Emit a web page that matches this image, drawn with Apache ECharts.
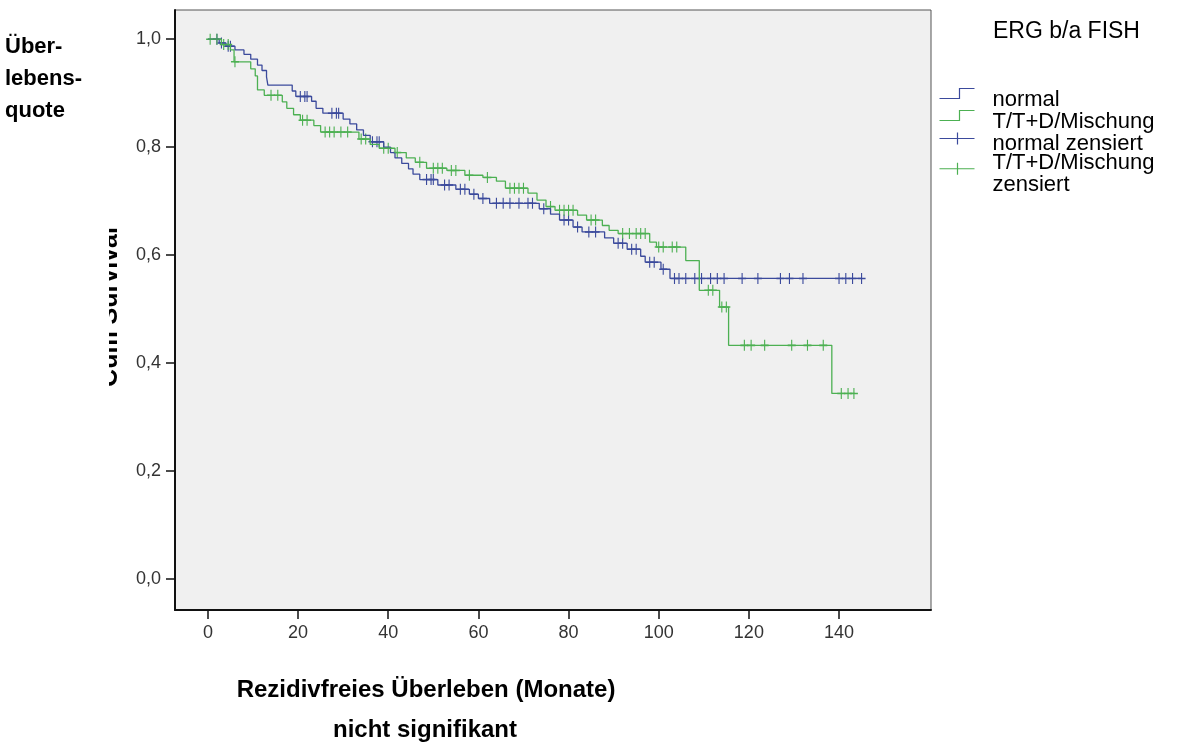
<!DOCTYPE html>
<html>
<head>
<meta charset="utf-8">
<title>ERG b/a FISH</title>
<script src="https://cdn.jsdelivr.net/npm/echarts@6/dist/echarts.min.js"></script>
<style>
	html, body { margin: 0; padding: 0; background: #fff; }
	#chart { width: 1189px; height: 743px; }
</style>
</head>
<body>
<div id="chart"></div>
<script>
// Achsen
const xTicks = [0, 20, 40, 60, 80, 100, 120, 140];
const yTicks = [0, 0.2, 0.4, 0.6, 0.8, 1.0];

// normal: Zeitpunkte (Monate) und Überlebensquote ab diesem Zeitpunkt
const normalTimes = [0, 2.5, 4, 6, 8, 9.5, 11, 12, 13, 13.3, 18.7, 19.5, 23, 24, 25.5, 30, 31.5, 33, 34.5, 36, 39, 40.5, 41.5, 43, 44.5, 45.5, 47, 51, 55, 58, 60, 62.5, 73.5, 76, 78, 81, 83, 88, 90, 93, 96, 97, 100.5, 102.5, 145];
const normalSurv = [1.0, 0.993, 0.987, 0.98, 0.972, 0.963, 0.952, 0.942, 0.93, 0.915, 0.904, 0.894, 0.885, 0.872, 0.863, 0.852, 0.843, 0.832, 0.822, 0.81, 0.8, 0.79, 0.78, 0.77, 0.76, 0.75, 0.74, 0.73, 0.722, 0.713, 0.705, 0.696, 0.686, 0.676, 0.665, 0.652, 0.643, 0.632, 0.622, 0.611, 0.598, 0.587, 0.574, 0.557, 0.557];
// normal zensiert
const normalCensored = [2, 3, 4.5, 5, 20.5, 21.5, 22, 27.5, 28.5, 29, 36.5, 37.5, 38, 48.5, 49.5, 50, 52.5, 53.5, 56, 57, 59, 61, 64, 65.5, 67, 69, 71, 72, 74.5, 79, 80, 82, 84.5, 86, 91, 92, 94, 95, 98, 99, 101, 103.5, 104.5, 106, 108, 109.5, 111.5, 113, 114.5, 118.5, 122, 127, 129, 132, 140, 141.5, 143, 145];

// T/T+D/Mischung
const mixTimes = [0, 3, 5, 5.8, 9.5, 10.5, 11, 12.5, 16.5, 17.5, 19, 20.5, 23.5, 25, 33.5, 36, 38, 41.5, 44, 46, 48.5, 53, 57, 61, 64, 66, 71, 73, 75, 77, 82, 84, 87.5, 89, 91, 98, 99.5, 106, 109, 113.5, 115.5, 138.4, 143.5];
const mixSurv = [1.0, 0.99, 0.98, 0.958, 0.945, 0.932, 0.906, 0.896, 0.884, 0.872, 0.86, 0.85, 0.84, 0.828, 0.815, 0.805, 0.798, 0.79, 0.78, 0.772, 0.761, 0.757, 0.748, 0.744, 0.737, 0.724, 0.715, 0.702, 0.69, 0.683, 0.674, 0.665, 0.655, 0.646, 0.64, 0.624, 0.615, 0.59, 0.535, 0.504, 0.433, 0.344, 0.344];
// T/T+D/Mischung zensiert
const mixCensored = [0.5, 2, 3.5, 4.5, 6, 14, 15.5, 21, 22, 26, 27, 28, 29.5, 31, 34, 35, 39, 40, 42, 47, 50, 51, 52, 54, 55, 58, 62, 67, 68, 69, 70, 76, 78, 79, 80, 81, 85, 86, 92, 93.5, 95, 96, 97, 100, 101, 103, 104, 111, 112, 114, 115, 119, 120.5, 123.5, 129.5, 133, 136.5, 140.5, 142, 143.3];

const BLUE = "#3b4a9c";
const GREEN = "#4cb052";
const FONT = "'Liberation Sans', Arial, sans-serif";

// Legendensymbole: gezeichneter Teil oben, leerer Rest unten (hebt das Symbol etwas an)
const stepIcon = "path://M0,10L20,10L20,0L35,0M0,22";
const crossIcon = "path://M0,6L35,6M18,0L18,12M0,22";
const crossSymbol = "path://M0,6L12,6M6,0L6,12";

// Überlebensquote zum Zeitpunkt t (Treppenfunktion)
function survAt(times, surv, t) {
	let s = surv[0];
	for (let i = 0; i < times.length; i++) {
		if (times[i] <= t) s = surv[i];
	}
	return s;
}

const chart = echarts.init(document.getElementById("chart"));

const option = {
	animation: false,
	backgroundColor: "#fff",
	grid: {
		left: 175,
		top: 10,
		width: 756,
		height: 600,
		show: true,
		backgroundColor: "#f0f0f0",
		borderColor: "#555",
		borderWidth: 1,
	},
	xAxis: {
		type: "value",
		min: -7.3,
		max: 160.4,
		axisLine: { onZero: false, lineStyle: { color: "#111", width: 2 } },
		axisTick: { customValues: xTicks, length: 9, lineStyle: { color: "#111", width: 1.5 } },
		axisLabel: { customValues: xTicks, margin: 14, color: "#333", fontSize: 18, fontFamily: FONT },
		splitLine: { show: false },
	},
	yAxis: {
		type: "value",
		min: -0.057,
		max: 1.054,
		axisLine: { onZero: false, lineStyle: { color: "#111", width: 2 } },
		axisTick: { customValues: yTicks, length: 9, lineStyle: { color: "#111", width: 1.5 } },
		axisLabel: {
			customValues: yTicks,
			margin: 14,
			color: "#333",
			fontSize: 18,
			fontFamily: FONT,
			formatter: (v) => v.toFixed(1).replace(".", ","),
		},
		splitLine: { show: false },
	},
	legend: {
		orient: "vertical",
		left: 937,
		top: 86,
		padding: 0,
		itemWidth: 35,
		itemHeight: 22,
		itemGap: -5,
		selectedMode: false,
		textStyle: { fontSize: 22, lineHeight: 21.5, color: "#000", fontFamily: FONT, padding: [0, 0, 0, 13] },
		data: [
			{ name: "normal", icon: stepIcon, itemStyle: { color: "none", borderColor: BLUE, borderWidth: 1.2 } },
			{ name: "T/T+D/Mischung", icon: stepIcon, itemStyle: { color: "none", borderColor: GREEN, borderWidth: 1.2 } },
			{ name: "normal zensiert", icon: crossIcon, itemStyle: { color: "none", borderColor: BLUE, borderWidth: 1.2 } },
			{ name: "T/T+D/Mischung\nzensiert", icon: crossIcon, itemStyle: { color: "none", borderColor: GREEN, borderWidth: 1.2 } },
		],
	},
	series: [
		{
			name: "normal",
			type: "line",
			step: "end",
			showSymbol: false,
			lineStyle: { color: BLUE, width: 1.3 },
			itemStyle: { color: BLUE },
			data: normalTimes.map((t, i) => [t, normalSurv[i]]),
		},
		{
			name: "T/T+D/Mischung",
			type: "line",
			step: "end",
			showSymbol: false,
			lineStyle: { color: GREEN, width: 1.3 },
			itemStyle: { color: GREEN },
			data: mixTimes.map((t, i) => [t, mixSurv[i]]),
		},
		{
			name: "normal zensiert",
			type: "scatter",
			symbol: crossSymbol,
			symbolSize: [8, 11],
			itemStyle: { color: "none", borderColor: BLUE, borderWidth: 1.3, opacity: 1 },
			data: normalCensored.map((t) => [t, survAt(normalTimes, normalSurv, t)]),
		},
		{
			name: "T/T+D/Mischung\nzensiert",
			type: "scatter",
			symbol: crossSymbol,
			symbolSize: [8, 11],
			itemStyle: { color: "none", borderColor: GREEN, borderWidth: 1.3, opacity: 1 },
			data: mixCensored.map((t) => [t, survAt(mixTimes, mixSurv, t)]),
		},
	],
	graphic: [
		{
			type: "text",
			x: 993,
			y: 32,
			style: { text: "ERG b/a FISH", font: "23px " + FONT, fill: "#000", verticalAlign: "middle" },
		},
		{
			type: "text",
			x: 5,
			y: 31,
			style: { text: "Über-\nlebens-\nquote", font: "bold 22px " + FONT, lineHeight: 32, fill: "#000" },
		},
		// verdeckter SPSS-Achsentitel
		{
			type: "text",
			x: 123,
			y: 307,
			rotation: Math.PI / 2,
			style: { text: "Cum Survival", font: "bold 25px " + FONT, fill: "#000", align: "center", verticalAlign: "bottom" },
		},
		{
			type: "rect",
			shape: { x: 60, y: 200, width: 49, height: 220 },
			style: { fill: "#fff" },
		},
		{
			type: "text",
			x: 426,
			y: 690,
			style: { text: "Rezidivfreies Überleben (Monate)", font: "bold 24px " + FONT, fill: "#000", align: "center", verticalAlign: "middle" },
		},
		{
			type: "text",
			x: 425,
			y: 730,
			style: { text: "nicht signifikant", font: "bold 24px " + FONT, fill: "#000", align: "center", verticalAlign: "middle" },
		},
	],
};

chart.setOption(option);
</script>
</body>
</html>
